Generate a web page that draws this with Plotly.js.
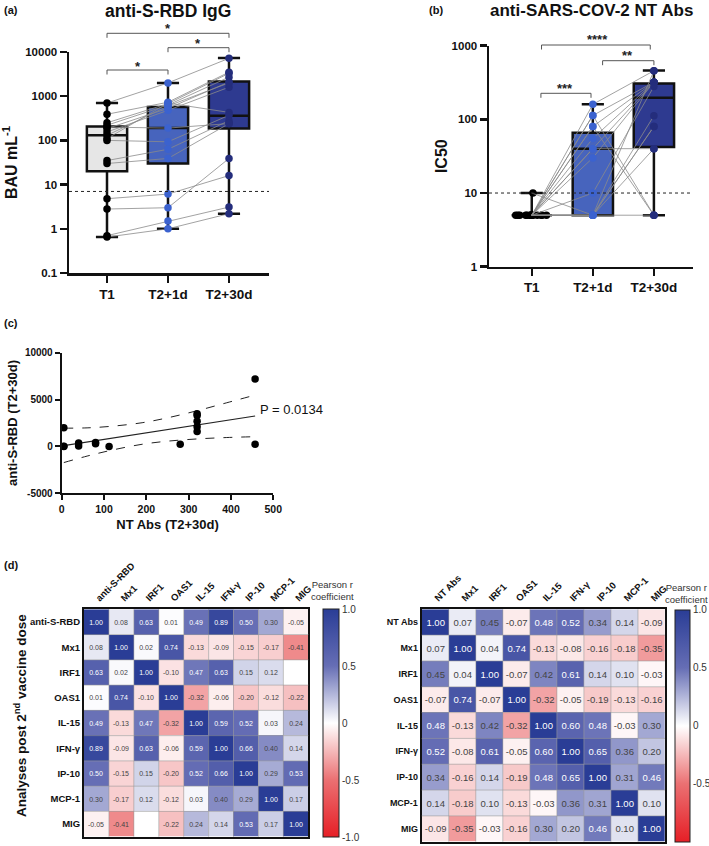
<!DOCTYPE html>
<html><head><meta charset="utf-8">
<script src="https://cdn.plot.ly/plotly-3.0.1.min.js"></script>
<style>html,body{margin:0;padding:0;background:#fff}#chart{width:709px;height:846px}</style>
</head><body><div id="chart"></div>
<script>
// ---------------- DATA ----------------
const timepoints = ['T1', 'T2+1d', 'T2+30d'];

// (a) anti-S-RBD IgG (BAU/mL) per subject
const rbdT1    = [700, 390, 250, 220, 185, 155, 130, 110, 100, 200, 35, 30, 4.8, 2.8, 0.7, 0.65];
const rbdT2d1  = [2000, 730, 680, 630, 530, 480, 600, 700, 93, 190, 63, 39, 6.1, 3.0, 1.5, 1.0];
const rbdT2d30 = [7200, 3500, 3300, 2700, 2100, 1600, 2000, 430, 370, 240, 280, 240, 16, 39, 3.1, 2.2];
// box stats [min, q1, median, q3, max]
const rbdBoxT1    = [0.65, 20, 130, 205, 700];
const rbdBoxT2d1  = [1.0, 30, 190, 570, 2000];
const rbdBoxT2d30 = [2.2, 185, 360, 2150, 7300];
const rbdLOD = 7.0;
const rbdTickVals = [0.1, 1, 10, 100, 1000, 10000];
const rbdTickText = ['0.1', '1', '10', '100', '1000', '10000'];

// (b) NT Abs IC50 per subject
const ntT1    = [5, 5, 5, 5, 5, 5, 5, 5, 5, 5, 10, 5, 5, 5, 5, 5];
const ntT2d1  = [160, 113, 80, 55, 40, 30, 113, 5, 40, 10, 5, 5, 80, 5, 5, 5];
const ntT2d30 = [457, 320, 320, 320, 320, 320, 5, 80, 40, 280, 80, 457, 5, 40, 5, 112];
const ntBoxT1    = [5, 5, 5, 5, 10];
const ntBoxT2d1  = [5, 5, 40, 66, 160];
const ntBoxT2d30 = [5, 42, 197, 308, 460];
const ntLOD = 10;
const ntTickVals = [1, 10, 100, 1000];
const ntTickText = ['1', '10', '100', '1000'];

// (c) regression
const fitX = [5, 457];
const fitY = [82, 3246];
const bandX = [5, 60, 120, 190, 250, 320, 390, 457];
const bandUpper = [1950, 1980, 2160, 2530, 3050, 3810, 4660, 5480];
const bandLower = [-1720, -1030, -380, 230, 560, 800, 950, 1040];
const corrTickVals = [-5000, 0, 5000, 10000];
const corrTickText = ['-5000', '0', '5000', '10000'];
const corrP = 'P = 0.0134';

// (d) Pearson correlation matrices
const hmLeftLabels = ['anti-S-RBD', 'Mx1', 'IRF1', 'OAS1', 'IL-15', 'IFN-γ', 'IP-10', 'MCP-1', 'MIG'];
const hmLeftZ = [
  [1.00, 0.08, 0.63, 0.01, 0.49, 0.89, 0.50, 0.30, -0.05],
  [0.08, 1.00, 0.02, 0.74, -0.13, -0.09, -0.15, -0.17, -0.41],
  [0.63, 0.02, 1.00, -0.10, 0.47, 0.63, 0.15, 0.12, null],
  [0.01, 0.74, -0.10, 1.00, -0.32, -0.06, -0.20, -0.12, -0.22],
  [0.49, -0.13, 0.47, -0.32, 1.00, 0.59, 0.52, 0.03, 0.24],
  [0.89, -0.09, 0.63, -0.06, 0.59, 1.00, 0.66, 0.40, 0.14],
  [0.50, -0.15, 0.15, -0.20, 0.52, 0.66, 1.00, 0.29, 0.53],
  [0.30, -0.17, 0.12, -0.12, 0.03, 0.40, 0.29, 1.00, 0.17],
  [-0.05, -0.41, null, -0.22, 0.24, 0.14, 0.53, 0.17, 1.00]
];
const hmRightLabels = ['NT Abs', 'Mx1', 'IRF1', 'OAS1', 'IL-15', 'IFN-γ', 'IP-10', 'MCP-1', 'MIG'];
const hmRightZ = [
  [1.00, 0.07, 0.45, -0.07, 0.48, 0.52, 0.34, 0.14, -0.09],
  [0.07, 1.00, 0.04, 0.74, -0.13, -0.08, -0.16, -0.18, -0.35],
  [0.45, 0.04, 1.00, -0.07, 0.42, 0.61, 0.14, 0.10, -0.03],
  [-0.07, 0.74, -0.07, 1.00, -0.32, -0.05, -0.19, -0.13, -0.16],
  [0.48, -0.13, 0.42, -0.32, 1.00, 0.60, 0.48, -0.03, 0.30],
  [0.52, -0.08, 0.61, -0.05, 0.60, 1.00, 0.65, 0.36, 0.20],
  [0.34, -0.16, 0.14, -0.19, 0.48, 0.65, 1.00, 0.31, 0.46],
  [0.14, -0.18, 0.10, -0.13, -0.03, 0.36, 0.31, 1.00, 0.10],
  [-0.09, -0.35, -0.03, -0.16, 0.30, 0.20, 0.46, 0.10, 1.00]
];
const cbTickVals = [-1, -0.5, 0, 0.5, 1];
const cbTickText = ['-1.0', '-0.5', '0', '0.5', '1.0'];

// ---------------- STYLE / HELPERS ----------------
const W = 709, H = 846;
const X = p => p / W;
const Y = p => 1 - p / H;
const FONT = 'Liberation Sans, Arial, Helvetica, sans-serif';
const colT1 = '#e6e6e6';
const colBox1 = '#4764bd', colPt1 = '#3b62cf';
const colBox2 = '#2e3a90', colPt2 = '#242d7c';
const colorscale = [[0, 'rgb(230,31,38)'], [0.25, 'rgb(235,112,114)'], [0.5, 'rgb(255,255,255)'],
                    [0.75, 'rgb(102,110,181)'], [1, 'rgb(42,61,150)']];

function boxTrace(xa, ya, cat, s, fill) {
  return {type: 'box', xaxis: xa, yaxis: ya, x: [cat], lowerfence: [s[0]], q1: [s[1]], median: [s[2]],
          q3: [s[3]], upperfence: [s[4]], fillcolor: fill, line: {color: '#111', width: 2.5},
          width: 0.66, whiskerwidth: 0.55, boxpoints: false, hoverinfo: 'skip', showlegend: false};
}
function subjectLines(xa, ya, a, b, c) {
  return a.map((v, i) => ({type: 'scatter', mode: 'lines', xaxis: xa, yaxis: ya, x: timepoints,
    y: [a[i], b[i], c[i]], line: {color: '#8a8a8a', width: 0.8}, hoverinfo: 'skip', showlegend: false}));
}
function pts(xa, ya, cat, vals, color) {
  return {type: 'scatter', mode: 'markers', xaxis: xa, yaxis: ya, x: vals.map(() => cat), y: vals,
    marker: {color: color, size: 7.5}, cliponaxis: false, hoverinfo: 'y', showlegend: false};
}

const traces = [];
// (a)
traces.push(boxTrace('x', 'y', 'T1', rbdBoxT1, colT1));
traces.push(boxTrace('x', 'y', 'T2+1d', rbdBoxT2d1, colBox1));
traces.push(boxTrace('x', 'y', 'T2+30d', rbdBoxT2d30, colBox2));
traces.push(...subjectLines('x', 'y', rbdT1, rbdT2d1, rbdT2d30));
traces.push(pts('x', 'y', 'T1', rbdT1, '#000'));
traces.push(pts('x', 'y', 'T2+1d', rbdT2d1, colPt1));
traces.push(pts('x', 'y', 'T2+30d', rbdT2d30, colPt2));
// (b)
traces.push(boxTrace('x2', 'y2', 'T1', ntBoxT1, '#000'));
traces.push(boxTrace('x2', 'y2', 'T2+1d', ntBoxT2d1, colBox1));
traces.push(boxTrace('x2', 'y2', 'T2+30d', ntBoxT2d30, colBox2));
traces.push({type: 'box', xaxis: 'x2', yaxis: 'y2', x: ntT1.map(() => 'T1'), y: ntT1, boxpoints: 'all',
  jitter: 1, pointpos: 0, width: 0.62, fillcolor: 'rgba(0,0,0,0)', line: {width: 0, color: 'rgba(0,0,0,0)'},
  whiskerwidth: 0, marker: {color: '#000', size: 7.5}, hoverinfo: 'y', showlegend: false});
traces.push(...subjectLines('x2', 'y2', ntT1, ntT2d1, ntT2d30));
traces.push(pts('x2', 'y2', 'T2+1d', ntT2d1, colPt1));
traces.push(pts('x2', 'y2', 'T2+30d', ntT2d30, colPt2));
// (c)
traces.push({type: 'scatter', mode: 'lines', xaxis: 'x3', yaxis: 'y3', x: bandX, y: bandUpper,
  line: {color: '#222', width: 1, dash: 'dash', shape: 'spline'}, hoverinfo: 'skip', showlegend: false});
traces.push({type: 'scatter', mode: 'lines', xaxis: 'x3', yaxis: 'y3', x: bandX, y: bandLower,
  line: {color: '#222', width: 1, dash: 'dash', shape: 'spline'}, hoverinfo: 'skip', showlegend: false});
traces.push({type: 'scatter', mode: 'lines', xaxis: 'x3', yaxis: 'y3', x: fitX, y: fitY,
  line: {color: '#222', width: 1.2}, hoverinfo: 'skip', showlegend: false});
traces.push({type: 'scatter', mode: 'markers', xaxis: 'x3', yaxis: 'y3', x: ntT2d30, y: rbdT2d30,
  marker: {color: '#000', size: 7.5}, cliponaxis: false, showlegend: false});
// (d)
function hmText(z) { return z.map(r => r.map(v => v === null ? ' ' : v.toFixed(2))); }
traces.push({type: 'heatmap', xaxis: 'x4', yaxis: 'y4', x: hmLeftLabels, y: hmLeftLabels, z: hmLeftZ,
  text: hmText(hmLeftZ), texttemplate: '%{text}', textfont: {size: 7, family: FONT},
  zmin: -1, zmax: 1, colorscale: colorscale, hoverongaps: false,
  colorbar: {x: X(322.7), xanchor: 'left', xpad: 0, ypad: 0, y: Y(723), yanchor: 'middle', len: 228 / H,
    thickness: 16, outlinewidth: 1, outlinecolor: '#222', tickvals: cbTickVals, ticktext: cbTickText,
    ticks: '', tickfont: {size: 10, color: '#333', family: FONT}}});
traces.push({type: 'heatmap', xaxis: 'x5', yaxis: 'y5', x: hmRightLabels, y: hmRightLabels, z: hmRightZ,
  text: hmText(hmRightZ), texttemplate: '%{text}', textfont: {size: 9.5, family: FONT},
  zmin: -1, zmax: 1, colorscale: colorscale,
  colorbar: {x: X(675), xanchor: 'left', xpad: 0, ypad: 0, y: Y(725.5), yanchor: 'middle', len: 232 / H,
    thickness: 15, outlinewidth: 1, outlinecolor: '#222', tickvals: cbTickVals, ticktext: cbTickText,
    ticks: '', tickfont: {size: 10, color: '#333', family: FONT}}});

// ---------------- LAYOUT ----------------
const axLine = {showline: true, linewidth: 2.5, linecolor: '#111', ticks: 'outside', ticklen: 7, tickwidth: 2.5,
  tickcolor: '#111', showgrid: false, zeroline: false, fixedrange: true};
const catAx = Object.assign({}, axLine, {type: 'category', categoryorder: 'array', categoryarray: timepoints,
  tickfont: {size: 13.5, weight: 700, color: '#111'}});

const shapes = [];
const annotations = [];
function bracket(xa, x0, x1, yPx, starPx, label, starX) {
  const ln = {color: '#555', width: 1};
  shapes.push({type: 'line', xref: xa, yref: 'paper', x0: x0, x1: x1, y0: Y(yPx), y1: Y(yPx), line: ln});
  shapes.push({type: 'line', xref: xa, yref: 'paper', x0: x0, x1: x0, y0: Y(yPx), y1: Y(yPx + 4.5), line: ln});
  shapes.push({type: 'line', xref: xa, yref: 'paper', x0: x1, x1: x1, y0: Y(yPx), y1: Y(yPx + 4.5), line: ln});
  annotations.push({xref: xa, yref: 'paper', x: starX === undefined ? (x0 + x1) / 2 : starX, y: Y(starPx + 3),
    text: label, showarrow: false, font: {size: 13, weight: 700, color: '#222'}, yanchor: 'middle'});
}
bracket('x', 0, 1, 70, 63, '*');
bracket('x', 1, 2, 47.7, 40, '*');
bracket('x', 0, 2, 33.3, 26, '*');
bracket('x2', 0.15, 0.97, 93.3, 85, '***', 0.55);
bracket('x2', 1.16, 2.0, 60.7, 52.7, '**', 1.56);
bracket('x2', 0.16, 1.94, 45, 36.7, '****', 1.07);

// LOD dotted lines
shapes.push({type: 'line', xref: 'x domain', yref: 'y', x0: 0, x1: 1, y0: rbdLOD, y1: rbdLOD,
  line: {color: '#222', width: 1, dash: 'dot'}});
shapes.push({type: 'line', xref: 'x2 domain', yref: 'y2', x0: 0, x1: 1, y0: ntLOD, y1: ntLOD,
  line: {color: '#222', width: 1, dash: 'dot'}});

// heatmap internal cell borders
[['x4', 'y4'], ['x5', 'y5']].forEach(([xa, ya]) => {
  for (let k = 1; k < 9; k++) {
    shapes.push({type: 'line', xref: xa, yref: ya + ' domain', x0: k - 0.5, x1: k - 0.5, y0: 0, y1: 1,
      line: {color: '#9a9a9a', width: 0.6}});
    shapes.push({type: 'line', xref: xa + ' domain', yref: ya, x0: 0, x1: 1, y0: k - 0.5, y1: k - 0.5,
      line: {color: '#9a9a9a', width: 0.6}});
  }
});

function txt(text, xp, yp, size, bold, opts) {
  annotations.push(Object.assign({xref: 'paper', yref: 'paper', x: X(xp), y: Y(yp), text: text, showarrow: false,
    font: {size: size, weight: bold ? 700 : 400, color: '#111'}, xanchor: 'center', yanchor: 'middle'}, opts || {}));
}
txt('(a)', 2, 10, 11, true, {xanchor: 'left'});
txt('anti-S-RBD IgG', 168, 11, 17.5, true);
txt('(b)', 427, 10, 11, true, {xanchor: 'left'});
txt('anti-SARS-COV-2 NT Abs', 591.5, 11, 17, true);
txt('(c)', 2, 323, 11, true, {xanchor: 'left'});
txt('(d)', 2, 565, 11, true, {xanchor: 'left'});
txt(corrP, 258, 410, 13, false, {xanchor: 'left'});
txt('Analyses post 2<sup>nd</sup> vaccine dose', 20, 716, 13.5, true, {textangle: -90});
txt('Pearson r<br>coefficient', 332, 590, 9.5, false, {font: {size: 9.5, color: '#333'}});
txt('Pearson r<br>coefficient', 686, 593, 9.5, false, {font: {size: 9.5, color: '#333'}});

const layout = {
  width: W, height: H, margin: {l: 0, r: 0, t: 0, b: 0}, paper_bgcolor: '#fff', plot_bgcolor: 'rgba(0,0,0,0)',
  showlegend: false, boxmode: 'overlay', font: {family: FONT, color: '#111'},
  xaxis: Object.assign({}, catAx, {domain: [X(69), X(269)], anchor: 'y', range: [-0.623, 2.656]}),
  yaxis: Object.assign({}, axLine, {domain: [Y(273), Y(52)], anchor: 'x', type: 'log', range: [-1, 4],
    tickvals: rbdTickVals, ticktext: rbdTickText, tickfont: {size: 11.5, weight: 700, color: '#111'},
    title: {text: 'BAU mL<sup>-1</sup>', font: {size: 16, weight: 700}, standoff: 6}}),
  xaxis2: Object.assign({}, catAx, {domain: [X(489), X(693)], anchor: 'y2', range: [-0.70, 2.64]}),
  yaxis2: Object.assign({}, axLine, {domain: [Y(266.7), Y(45.7)], anchor: 'x2', type: 'log', range: [0, 3],
    tickvals: ntTickVals, ticktext: ntTickText, tickfont: {size: 11.5, weight: 700, color: '#111'},
    title: {text: 'IC50', font: {size: 16, weight: 700}, standoff: 0}}),
  xaxis3: Object.assign({}, axLine, {domain: [X(61.7), X(273.3)], anchor: 'y3', range: [0, 500], dtick: 100,
    ticklen: 5, tickwidth: 2, linewidth: 2, tickfont: {size: 10.5, weight: 700, color: '#111'},
    title: {text: 'NT Abs (T2+30d)', font: {size: 13, weight: 700}, standoff: 6}}),
  yaxis3: Object.assign({}, axLine, {domain: [Y(493.3), Y(352.7)], anchor: 'x3', range: [-5000, 10000],
    tickvals: corrTickVals, ticktext: corrTickText, ticklen: 5, tickwidth: 2, linewidth: 2,
    tickfont: {size: 10, weight: 700, color: '#111'},
    title: {text: 'anti-S-RBD (T2+30d)', font: {size: 13, weight: 700}, standoff: 4}}),
  xaxis4: {domain: [X(84), X(308.3)], anchor: 'y4', side: 'top', type: 'category', tickangle: -45, ticks: '',
    showline: true, mirror: true, linewidth: 2, linecolor: '#111', showgrid: false, zeroline: false,
    tickfont: {size: 9.5, weight: 700, color: '#111'}, fixedrange: true},
  yaxis4: {domain: [Y(836.7), Y(609.3)], anchor: 'x4', type: 'category', autorange: 'reversed', ticks: '',
    showline: true, mirror: true, linewidth: 2, linecolor: '#111', showgrid: false, zeroline: false,
    tickfont: {size: 9.5, weight: 700, color: '#111'}, fixedrange: true},
  xaxis5: {domain: [X(421.7), X(665)], anchor: 'y5', side: 'top', type: 'category', tickangle: -45, ticks: '',
    showline: true, mirror: true, linewidth: 2, linecolor: '#111', showgrid: false, zeroline: false,
    tickfont: {size: 9.5, weight: 700, color: '#111'}, fixedrange: true},
  yaxis5: {domain: [Y(841.7), Y(609.3)], anchor: 'x5', type: 'category', autorange: 'reversed', ticks: '',
    showline: true, mirror: true, linewidth: 2, linecolor: '#111', showgrid: false, zeroline: false,
    tickfont: {size: 9, weight: 700, color: '#111'}, fixedrange: true},
  shapes: shapes,
  annotations: annotations
};

Plotly.newPlot('chart', traces, layout, {displayModeBar: false, staticPlot: true});
</script>
</body></html>
